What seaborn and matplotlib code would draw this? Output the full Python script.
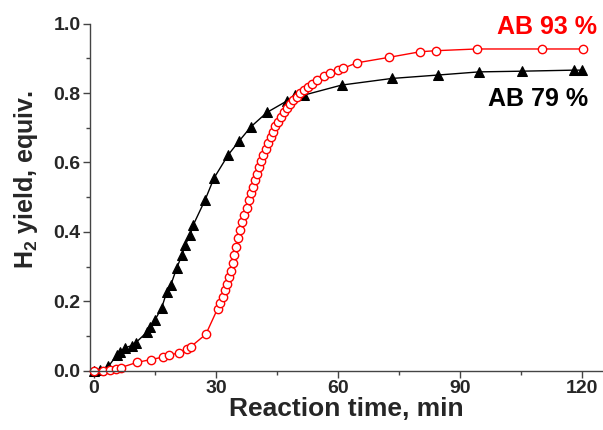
import matplotlib
matplotlib.use("Agg")
import matplotlib.pyplot as plt
from matplotlib.ticker import MultipleLocator
import seaborn as sns
import pandas as pd

# AB 79 % run (black triangles)
t_79 = [0, 1.5, 3.5, 5.6, 6.4, 7.6, 9.2, 10.2, 12.9, 13.7, 14.9, 16.6, 17.9,
        18.9, 20.3, 21.6, 22.4, 23.6, 24.4, 27.3, 29.5, 33.0, 35.7, 38.6,
        42.5, 47.4, 49.4, 51.6, 60.9, 73.2, 84.7, 94.7, 105.2, 118.0, 120.0]
y_79 = [0.0, 0.003, 0.012, 0.045, 0.054, 0.066, 0.072, 0.080, 0.110, 0.125,
        0.145, 0.180, 0.228, 0.248, 0.295, 0.333, 0.362, 0.390, 0.420, 0.492,
        0.555, 0.622, 0.662, 0.703, 0.744, 0.777, 0.794, 0.794, 0.823, 0.842,
        0.852, 0.861, 0.863, 0.866, 0.866]

# AB 93 % run (red open circles)
t_93 = [0, 2.2, 4.0, 5.4, 6.6, 10.6, 14.0, 16.9, 18.5, 20.8, 22.8, 23.8, 27.5,
        30.4, 31.0, 31.6, 32.2, 32.7, 33.2, 33.6, 34.1, 34.5, 35.0, 35.5,
        36.0, 36.5, 37.0, 37.5, 38.0, 38.5, 39.0, 39.5, 40.0, 40.5, 41.0,
        41.6, 42.2, 42.8, 43.4, 44.0, 44.6, 45.3, 46.0, 46.7, 47.4, 48.2,
        49.0, 49.8, 50.7, 51.6, 52.6, 53.6, 54.9, 56.5, 58.0, 60.1, 61.2,
        64.6, 72.6, 80.2, 84.0, 94.1, 110.2, 120.2]
y_93 = [0.0, 0.0, 0.002, 0.006, 0.009, 0.024, 0.032, 0.039, 0.045, 0.051,
        0.061, 0.069, 0.105, 0.179, 0.195, 0.213, 0.232, 0.251, 0.270, 0.288,
        0.311, 0.334, 0.357, 0.381, 0.404, 0.427, 0.449, 0.470, 0.491, 0.511,
        0.530, 0.549, 0.568, 0.587, 0.605, 0.622, 0.640, 0.657, 0.673, 0.689,
        0.704, 0.718, 0.732, 0.745, 0.757, 0.768, 0.779, 0.789, 0.799, 0.808,
        0.818, 0.827, 0.839, 0.849, 0.858, 0.866, 0.871, 0.887, 0.903, 0.919,
        0.922, 0.927, 0.927, 0.927]

x_ticks = [0, 30, 60, 90, 120]
y_ticks = [0.0, 0.2, 0.4, 0.6, 0.8, 1.0]

d79 = pd.DataFrame({'time': t_79, 'yield': y_79})
d93 = pd.DataFrame({'time': t_93, 'yield': y_93})

sns.set_style('ticks')
plt.rcParams['font.family'] = ['Liberation Sans', 'DejaVu Sans']
plt.rcParams['font.weight'] = 'bold'
plt.rcParams['mathtext.fontset'] = 'custom'
plt.rcParams['mathtext.rm'] = 'Liberation Sans:bold'
plt.rcParams['mathtext.bf'] = 'Liberation Sans:bold'
plt.rcParams['mathtext.default'] = 'rm'

fig = plt.figure(figsize=(6.03, 4.30), dpi=100)
ax = fig.add_axes([0.150, 0.138, 0.85, 0.807])

sns.lineplot(x='time', y='yield', data=d79, ax=ax, estimator=None, sort=False,
             color='black', lw=1, marker='^', markersize=6.5,
             markeredgecolor='black', clip_on=False)
sns.lineplot(x='time', y='yield', data=d93, ax=ax, estimator=None, sort=False,
             color='red', lw=1, marker='o', markersize=6,
             markerfacecolor='white', markeredgecolor='red', markeredgewidth=1,
             clip_on=False)

ax.set_xlim(-0.9, 125.2)
ax.set_ylim(0, 1.0)
ax.set_xticks(x_ticks)
ax.set_yticks(y_ticks)
ax.set_yticklabels(['{0:.1f}'.format(v) for v in y_ticks])
ax.xaxis.set_minor_locator(MultipleLocator(15))
ax.yaxis.set_minor_locator(MultipleLocator(0.1))
ax.tick_params(which='major', length=5, width=1, labelsize=14, color='#444444', pad=2)
ax.tick_params(which='minor', length=3, width=1, color='#444444')

for side in ['top', 'right']:
    ax.spines[side].set_visible(False)
for side in ['left', 'bottom']:
    ax.spines[side].set_color('#444444')
    ax.spines[side].set_linewidth(1)

ax.set_xlabel('Reaction time, min', fontsize=19, fontweight='bold', labelpad=0)
ax.set_ylabel('H$_2$ yield, equiv.', fontsize=18, fontweight='bold', labelpad=10)
ax.yaxis.label.set_y(0.55)

ax.text(123.7, 0.99, 'AB 93 %', color='red', fontsize=18, fontweight='bold',
        ha='right', va='center')
ax.text(121.5, 0.782, 'AB 79 %', color='black', fontsize=18, fontweight='bold',
        ha='right', va='center')

plt.savefig('out.png', dpi=100)
